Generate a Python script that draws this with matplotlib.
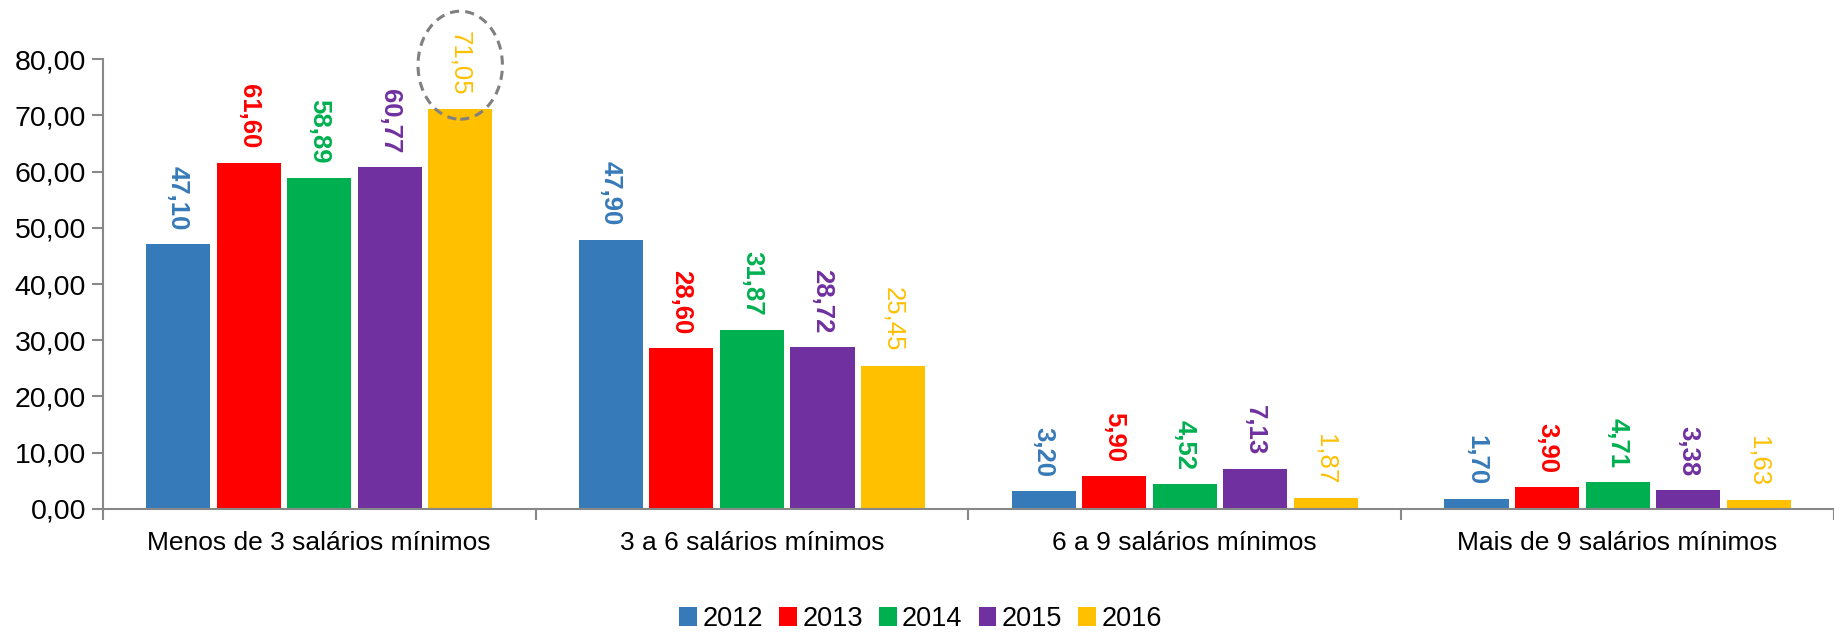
import numpy as np
import matplotlib
matplotlib.use("Agg")
import matplotlib.pyplot as plt
from matplotlib.patches import Ellipse

plt.rcParams['font.family'] = ['Liberation Sans', 'DejaVu Sans']

categorias = ["Menos de 3 salários mínimos", "3 a 6 salários mínimos",
              "6 a 9 salários mínimos", "Mais de 9 salários mínimos"]
anos = ["2012", "2013", "2014", "2015", "2016"]
v2012 = [47.10, 47.90, 3.20, 1.70]
v2013 = [61.60, 28.60, 5.90, 3.90]
v2014 = [58.89, 31.87, 4.52, 4.71]
v2015 = [60.77, 28.72, 7.13, 3.38]
v2016 = [71.05, 25.45, 1.87, 1.63]
series = [v2012, v2013, v2014, v2015, v2016]
cores = ["#377AB9", "#FF0000", "#00B050", "#7030A0", "#FFC000"]
pesos = ["bold", "bold", "bold", "bold", "normal"]

fig = plt.figure(figsize=(18.34, 6.36), dpi=100)
ax = fig.add_axes([0.056, 0.1997, 0.944, 0.7075])

x = np.arange(len(categorias))
passo = 0.163
largura = 0.148
for i, (ano, vals) in enumerate(zip(anos, series)):
    pos = x + (i - 2) * passo
    barras = ax.bar(pos, vals, largura, color=cores[i], label=ano, zorder=2)
    for xp, v in zip(pos, vals):
        ax.annotate(f"{v:.2f}".replace(".", ","), (xp, v), xytext=(0, 10),
                    textcoords="offset points", rotation=270, ha="center",
                    va="bottom", fontsize=18.5, color=cores[i],
                    fontweight=pesos[i], annotation_clip=False)

# destaque do valor de 2016
ax.add_patch(Ellipse((0 + 2 * passo, 78.9), 0.195, 19.2, fill=False,
                     edgecolor="#808080", linestyle=(0, (3, 2)), linewidth=2.2,
                     clip_on=False, zorder=3))

ax.set_xlim(-0.5, 3.457)
ax.set_ylim(0, 80)
ax.set_yticks(np.arange(0, 81, 10))
ax.set_yticklabels([f"{t:.2f}".replace(".", ",") for t in np.arange(0, 81, 10)],
                   fontsize=20.5)
ax.set_xticks(x)
ax.set_xticklabels(categorias, fontsize=19)
ax.set_xticks(np.arange(-0.5, 4, 1), minor=True)
ax.tick_params(axis="x", which="major", length=0, pad=16)
ax.tick_params(axis="x", which="minor", length=8, color="#888888", width=1.5)
ax.tick_params(axis="y", length=8, color="#888888", width=1.5, pad=4)
for s in ["top", "right"]:
    ax.spines[s].set_visible(False)
for s in ["left", "bottom"]:
    ax.spines[s].set_color("#888888")
    ax.spines[s].set_linewidth(1.5)

fig.legend(loc="lower center", bbox_to_anchor=(0.502, -0.032), ncol=5, frameon=False,
           fontsize=19.5, handlelength=0.65, handleheight=0.65, handletextpad=0.2,
           columnspacing=0.6)

fig.savefig("out.png", dpi=100)
